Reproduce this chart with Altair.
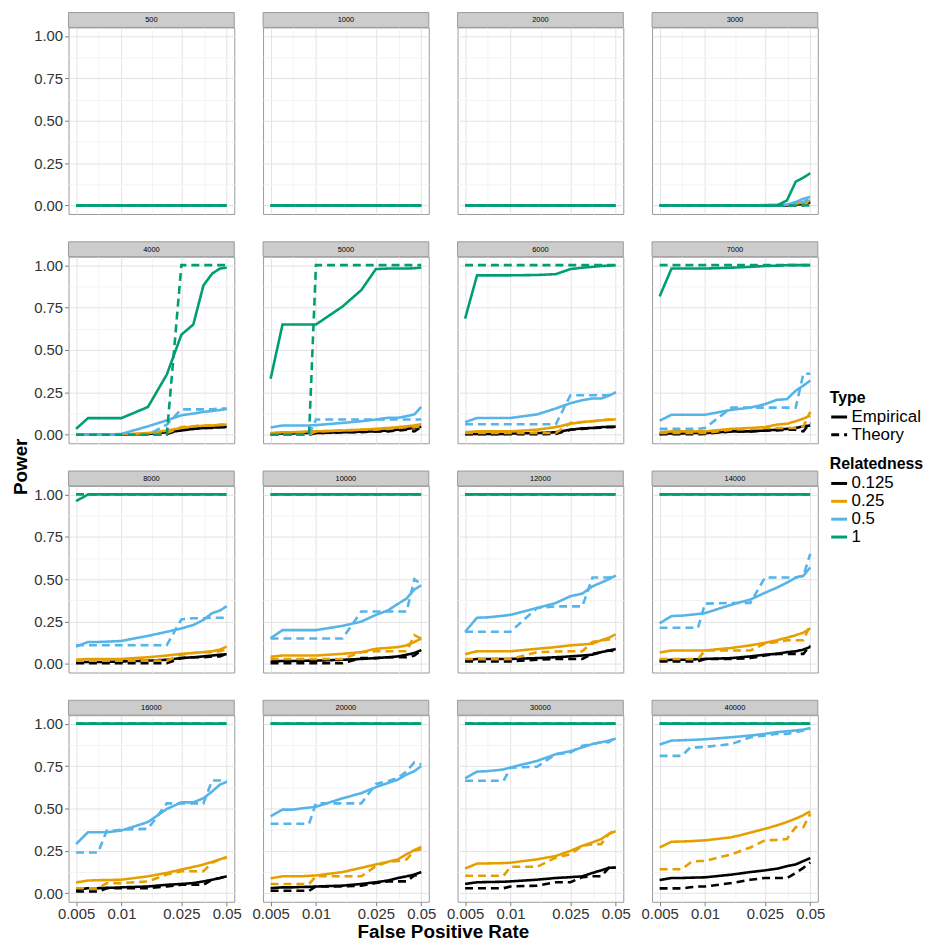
import math
import altair as alt
import pandas as pd

# ---------------- data ----------------
FPR = [0.005, 0.006, 0.007, 0.008, 0.009, 0.01, 0.015, 0.02, 0.025, 0.03, 0.035, 0.04, 0.045, 0.05]
SAMPLE_SIZES = ["500", "1000", "2000", "3000", "4000", "5000", "6000", "7000",
                "8000", "10000", "12000", "14000", "16000", "20000", "30000", "40000"]
RELATEDNESS = ["0.125", "0.25", "0.5", "1"]
REL_COLORS = ["#000000", "#E69F00", "#56B4E9", "#009E73"]
TYPES = ["Empirical", "Theory"]
X_MAJOR = [0.005, 0.01, 0.025, 0.05]
Y_MAJOR = [0.0, 0.25, 0.5, 0.75, 1.0]

ZERO = [0, 0, 0, 0, 0, 0, 0, 0, 0, 0, 0, 0, 0, 0]
ONE = [1, 1, 1, 1, 1, 1, 1, 1, 1, 1, 1, 1, 1, 1]

EMPIRICAL = {
    "500": {"0.125": ZERO, "0.25": ZERO, "0.5": ZERO, "1": ZERO},
    "1000": {"0.125": ZERO, "0.25": ZERO, "0.5": ZERO, "1": ZERO},
    "2000": {"0.125": ZERO, "0.25": ZERO, "0.5": ZERO, "1": ZERO},
    "3000": {
        "0.125": [0, 0, 0, 0, 0, 0, 0, 0, 0, 0, 0, 0.005, 0.01, 0.02],
        "0.25": [0, 0, 0, 0, 0, 0, 0, 0, 0.003, 0.005, 0.005, 0.01, 0.02, 0.03],
        "0.5": [0, 0, 0, 0, 0, 0, 0, 0, 0, 0, 0.005, 0.02, 0.04, 0.05],
        "1": [0, 0, 0, 0, 0, 0, 0, 0, 0, 0, 0.03, 0.14, 0.165, 0.19],
    },
    "4000": {
        "0.125": [0, 0, 0, 0, 0, 0, 0.005, 0.015, 0.025, 0.035, 0.04, 0.042, 0.045, 0.047],
        "0.25": [0, 0, 0, 0, 0, 0.002, 0.01, 0.025, 0.04, 0.05, 0.053, 0.055, 0.057, 0.06],
        "0.5": [0, 0, 0, 0, 0.003, 0.005, 0.05, 0.085, 0.115, 0.125, 0.135, 0.14, 0.146, 0.152],
        "1": [0.035, 0.098, 0.098, 0.098, 0.098, 0.098, 0.164, 0.355, 0.59, 0.65, 0.88, 0.95, 0.98, 0.985],
    },
    "5000": {
        "0.125": [0.005, 0.008, 0.008, 0.01, 0.01, 0.01, 0.015, 0.018, 0.02, 0.025, 0.03, 0.035, 0.04, 0.047],
        "0.25": [0.01, 0.015, 0.015, 0.017, 0.02, 0.02, 0.025, 0.03, 0.035, 0.04, 0.045, 0.05, 0.055, 0.062],
        "0.5": [0.043, 0.055, 0.055, 0.055, 0.055, 0.057, 0.07, 0.08, 0.09, 0.1, 0.1, 0.11, 0.12, 0.164],
        "1": [0.33, 0.65, 0.65, 0.65, 0.65, 0.65, 0.756, 0.853, 0.977, 0.98, 0.98, 0.98, 0.982, 0.985],
    },
    "6000": {
        "0.125": [0.005, 0.005, 0.005, 0.005, 0.005, 0.007, 0.01, 0.015, 0.03, 0.038, 0.04, 0.045, 0.047, 0.048],
        "0.25": [0.015, 0.02, 0.02, 0.02, 0.02, 0.02, 0.03, 0.045, 0.065, 0.075, 0.08, 0.085, 0.088, 0.091],
        "0.5": [0.074, 0.099, 0.099, 0.099, 0.099, 0.099, 0.12, 0.155, 0.186, 0.204, 0.214, 0.214, 0.23, 0.25],
        "1": [0.685, 0.94, 0.94, 0.94, 0.94, 0.94, 0.942, 0.947, 0.977, 0.985, 0.99, 0.995, 0.997, 1.0],
    },
    "7000": {
        "0.125": [0.005, 0.008, 0.008, 0.01, 0.01, 0.01, 0.02, 0.02, 0.025, 0.03, 0.035, 0.04, 0.05, 0.055],
        "0.25": [0.015, 0.02, 0.02, 0.02, 0.02, 0.02, 0.035, 0.04, 0.045, 0.06, 0.065, 0.08, 0.095, 0.113],
        "0.5": [0.083, 0.118, 0.118, 0.118, 0.118, 0.118, 0.147, 0.16, 0.18, 0.206, 0.21, 0.26, 0.29, 0.32],
        "1": [0.816, 0.98, 0.98, 0.98, 0.98, 0.98, 0.985, 0.99, 0.995, 0.997, 1.0, 1.0, 1.0, 1.0],
    },
    "8000": {
        "0.125": [0.01, 0.012, 0.012, 0.013, 0.014, 0.015, 0.02, 0.025, 0.035, 0.04, 0.045, 0.05, 0.055, 0.058],
        "0.25": [0.025, 0.03, 0.03, 0.03, 0.03, 0.03, 0.04, 0.05, 0.06, 0.065, 0.07, 0.075, 0.085, 0.103],
        "0.5": [0.103, 0.13, 0.13, 0.132, 0.134, 0.136, 0.166, 0.19, 0.21, 0.23, 0.26, 0.30, 0.315, 0.341],
        "1": [0.96, 1, 1, 1, 1, 1, 1, 1, 1, 1, 1, 1, 1, 1],
    },
    "10000": {
        "0.125": [0.015, 0.018, 0.018, 0.019, 0.02, 0.02, 0.025, 0.03, 0.035, 0.04, 0.045, 0.055, 0.065, 0.082],
        "0.25": [0.043, 0.05, 0.05, 0.05, 0.05, 0.05, 0.06, 0.07, 0.09, 0.095, 0.10, 0.11, 0.13, 0.15],
        "0.5": [0.152, 0.2, 0.2, 0.2, 0.2, 0.2, 0.225, 0.25, 0.29, 0.316, 0.355, 0.386, 0.44, 0.464],
        "1": ONE,
    },
    "12000": {
        "0.125": [0.02, 0.03, 0.03, 0.03, 0.03, 0.03, 0.035, 0.04, 0.045, 0.05, 0.055, 0.07, 0.08, 0.088],
        "0.25": [0.058, 0.075, 0.075, 0.075, 0.075, 0.075, 0.09, 0.10, 0.11, 0.115, 0.12, 0.14, 0.155, 0.175],
        "0.5": [0.19, 0.273, 0.275, 0.28, 0.285, 0.29, 0.33, 0.36, 0.40, 0.415, 0.458, 0.48, 0.50, 0.522],
        "1": ONE,
    },
    "14000": {
        "0.125": [0.02, 0.025, 0.025, 0.027, 0.028, 0.03, 0.035, 0.045, 0.055, 0.06, 0.07, 0.075, 0.085, 0.101],
        "0.25": [0.068, 0.08, 0.08, 0.08, 0.08, 0.08, 0.095, 0.11, 0.125, 0.14, 0.155, 0.17, 0.185, 0.21],
        "0.5": [0.24, 0.283, 0.285, 0.29, 0.295, 0.30, 0.35, 0.38, 0.42, 0.45, 0.48, 0.51, 0.52, 0.57],
        "1": ONE,
    },
    "16000": {
        "0.125": [0.02, 0.03, 0.03, 0.032, 0.033, 0.035, 0.04, 0.05, 0.055, 0.06, 0.07, 0.08, 0.09, 0.10],
        "0.25": [0.064, 0.075, 0.077, 0.078, 0.079, 0.08, 0.10, 0.12, 0.14, 0.155, 0.17, 0.185, 0.20, 0.214],
        "0.5": [0.29, 0.36, 0.36, 0.36, 0.365, 0.37, 0.42, 0.497, 0.536, 0.536, 0.56, 0.60, 0.64, 0.657],
        "1": ONE,
    },
    "20000": {
        "0.125": [0.03, 0.035, 0.035, 0.037, 0.038, 0.04, 0.045, 0.055, 0.065, 0.075, 0.09, 0.10, 0.11, 0.125],
        "0.25": [0.088, 0.10, 0.10, 0.10, 0.103, 0.105, 0.125, 0.15, 0.17, 0.185, 0.20, 0.23, 0.255, 0.273],
        "0.5": [0.454, 0.493, 0.493, 0.50, 0.505, 0.51, 0.56, 0.59, 0.626, 0.65, 0.67, 0.70, 0.72, 0.75],
        "1": ONE,
    },
    "30000": {
        "0.125": [0.055, 0.065, 0.066, 0.067, 0.068, 0.07, 0.08, 0.09, 0.095, 0.10, 0.12, 0.135, 0.15, 0.152],
        "0.25": [0.146, 0.175, 0.176, 0.177, 0.178, 0.18, 0.20, 0.22, 0.25, 0.28, 0.30, 0.32, 0.35, 0.366],
        "0.5": [0.678, 0.717, 0.72, 0.725, 0.73, 0.742, 0.78, 0.82, 0.838, 0.86, 0.88, 0.89, 0.90, 0.912],
        "1": ONE,
    },
    "40000": {
        "0.125": [0.078, 0.09, 0.09, 0.092, 0.093, 0.094, 0.11, 0.125, 0.135, 0.145, 0.16, 0.17, 0.19, 0.207],
        "0.25": [0.27, 0.304, 0.305, 0.307, 0.31, 0.312, 0.33, 0.357, 0.38, 0.40, 0.42, 0.44, 0.46, 0.483],
        "0.5": [0.877, 0.90, 0.902, 0.904, 0.906, 0.908, 0.92, 0.93, 0.94, 0.95, 0.955, 0.96, 0.965, 0.975],
        "1": ONE,
    },
}

THEORY = {
    "500": {"0.125": ZERO, "0.25": ZERO, "0.5": ZERO, "1": ZERO},
    "1000": {"0.125": ZERO, "0.25": ZERO, "0.5": ZERO, "1": ZERO},
    "2000": {"0.125": ZERO, "0.25": ZERO, "0.5": ZERO, "1": ZERO},
    "3000": {
        "0.125": [0, 0, 0, 0, 0, 0, 0, 0, 0, 0, 0, 0, 0, 0.02],
        "0.25": [0, 0, 0, 0, 0, 0, 0, 0, 0, 0, 0, 0, 0, 0.03],
        "0.5": [0, 0, 0, 0, 0, 0, 0, 0, 0, 0, 0, 0, 0.02, 0.04],
        "1": ZERO,
    },
    "4000": {
        "0.125": [0, 0, 0, 0, 0, 0, 0, 0.005, 0.03, 0.035, 0.04, 0.04, 0.045, 0.045],
        "0.25": [0, 0, 0, 0, 0, 0, 0, 0.01, 0.045, 0.05, 0.055, 0.055, 0.06, 0.06],
        "0.5": [0, 0, 0, 0, 0, 0, 0, 0.06, 0.15, 0.15, 0.15, 0.15, 0.155, 0.155],
        "1": [0, 0, 0, 0, 0, 0, 0, 0, 1, 1, 1, 1, 1, 1],
    },
    "5000": {
        "0.125": [0, 0, 0, 0, 0, 0.01, 0.015, 0.015, 0.02, 0.02, 0.025, 0.03, 0.02, 0.045],
        "0.25": [0, 0, 0, 0, 0, 0.02, 0.025, 0.03, 0.03, 0.035, 0.04, 0.045, 0.045, 0.05],
        "0.5": [0, 0, 0, 0, 0, 0.09, 0.09, 0.09, 0.09, 0.09, 0.09, 0.09, 0.09, 0.09],
        "1": [0, 0, 0, 0, 0, 1, 1, 1, 1, 1, 1, 1, 1, 1],
    },
    "6000": {
        "0.125": [0.003, 0.003, 0.003, 0.003, 0.003, 0.003, 0.003, 0.005, 0.03, 0.035, 0.04, 0.042, 0.045, 0.045],
        "0.25": [0.01, 0.01, 0.01, 0.01, 0.01, 0.01, 0.01, 0.01, 0.07, 0.075, 0.08, 0.085, 0.09, 0.09],
        "0.5": [0.062, 0.062, 0.062, 0.062, 0.062, 0.062, 0.062, 0.062, 0.233, 0.233, 0.233, 0.233, 0.235, 0.25],
        "1": ONE,
    },
    "7000": {
        "0.125": [0.003, 0.003, 0.003, 0.003, 0.003, 0.005, 0.02, 0.02, 0.025, 0.025, 0.03, 0.03, 0.02, 0.07],
        "0.25": [0.01, 0.01, 0.01, 0.01, 0.01, 0.01, 0.03, 0.035, 0.04, 0.04, 0.04, 0.04, 0.05, 0.135],
        "0.5": [0.035, 0.035, 0.035, 0.035, 0.035, 0.04, 0.16, 0.16, 0.16, 0.16, 0.16, 0.16, 0.36, 0.36],
        "1": ONE,
    },
    "8000": {
        "0.125": [0.005, 0.005, 0.005, 0.005, 0.005, 0.005, 0.005, 0.005, 0.035, 0.04, 0.04, 0.045, 0.045, 0.06],
        "0.25": [0.02, 0.02, 0.02, 0.02, 0.02, 0.02, 0.02, 0.02, 0.055, 0.065, 0.07, 0.07, 0.075, 0.09],
        "0.5": [0.111, 0.111, 0.111, 0.111, 0.111, 0.111, 0.111, 0.111, 0.263, 0.27, 0.27, 0.273, 0.273, 0.273],
        "1": ONE,
    },
    "10000": {
        "0.125": [0.005, 0.005, 0.005, 0.005, 0.005, 0.005, 0.005, 0.035, 0.035, 0.04, 0.04, 0.04, 0.05, 0.08],
        "0.25": [0.03, 0.03, 0.03, 0.03, 0.03, 0.03, 0.03, 0.07, 0.075, 0.075, 0.075, 0.075, 0.17, 0.15],
        "0.5": [0.15, 0.15, 0.15, 0.15, 0.15, 0.15, 0.15, 0.31, 0.31, 0.31, 0.31, 0.31, 0.50, 0.47],
        "1": ONE,
    },
    "12000": {
        "0.125": [0.015, 0.015, 0.015, 0.015, 0.015, 0.015, 0.025, 0.03, 0.03, 0.03, 0.06, 0.07, 0.08, 0.075],
        "0.25": [0.03, 0.03, 0.03, 0.03, 0.03, 0.03, 0.07, 0.074, 0.075, 0.075, 0.13, 0.14, 0.145, 0.152],
        "0.5": [0.19, 0.19, 0.19, 0.19, 0.19, 0.19, 0.33, 0.34, 0.34, 0.34, 0.51, 0.51, 0.51, 0.52],
        "1": ONE,
    },
    "14000": {
        "0.125": [0.015, 0.015, 0.015, 0.015, 0.015, 0.03, 0.03, 0.035, 0.05, 0.06, 0.06, 0.06, 0.06, 0.11],
        "0.25": [0.03, 0.03, 0.03, 0.03, 0.03, 0.08, 0.08, 0.08, 0.12, 0.13, 0.14, 0.14, 0.14, 0.23],
        "0.5": [0.214, 0.214, 0.214, 0.214, 0.214, 0.356, 0.36, 0.36, 0.51, 0.51, 0.51, 0.51, 0.52, 0.65],
        "1": ONE,
    },
    "16000": {
        "0.125": [0.01, 0.01, 0.01, 0.03, 0.03, 0.03, 0.03, 0.04, 0.05, 0.05, 0.05, 0.08, 0.09, 0.10],
        "0.25": [0.03, 0.03, 0.03, 0.06, 0.06, 0.06, 0.07, 0.11, 0.13, 0.13, 0.13, 0.18, 0.20, 0.21],
        "0.5": [0.24, 0.24, 0.24, 0.37, 0.37, 0.375, 0.38, 0.53, 0.53, 0.53, 0.53, 0.665, 0.665, 0.66],
        "1": ONE,
    },
    "20000": {
        "0.125": [0.015, 0.015, 0.015, 0.015, 0.015, 0.04, 0.04, 0.045, 0.06, 0.07, 0.07, 0.07, 0.105, 0.11],
        "0.25": [0.055, 0.055, 0.055, 0.055, 0.055, 0.10, 0.10, 0.10, 0.16, 0.185, 0.19, 0.20, 0.25, 0.26],
        "0.5": [0.41, 0.41, 0.41, 0.41, 0.41, 0.53, 0.53, 0.53, 0.645, 0.66, 0.68, 0.72, 0.772, 0.76],
        "1": ONE,
    },
    "30000": {
        "0.125": [0.03, 0.03, 0.03, 0.03, 0.03, 0.04, 0.045, 0.065, 0.065, 0.095, 0.10, 0.10, 0.15, 0.15],
        "0.25": [0.103, 0.103, 0.103, 0.103, 0.103, 0.156, 0.156, 0.21, 0.23, 0.28, 0.29, 0.29, 0.35, 0.376],
        "0.5": [0.663, 0.663, 0.663, 0.663, 0.663, 0.74, 0.746, 0.82, 0.83, 0.87, 0.88, 0.89, 0.89, 0.92],
        "1": ONE,
    },
    "40000": {
        "0.125": [0.029, 0.029, 0.029, 0.035, 0.04, 0.04, 0.06, 0.08, 0.09, 0.09, 0.09, 0.12, 0.15, 0.181],
        "0.25": [0.142, 0.142, 0.142, 0.18, 0.19, 0.19, 0.23, 0.27, 0.312, 0.315, 0.32, 0.39, 0.39, 0.47],
        "0.5": [0.81, 0.81, 0.81, 0.86, 0.86, 0.863, 0.88, 0.92, 0.93, 0.94, 0.94, 0.95, 0.96, 0.97],
        "1": ONE,
    },
}

rows = []
for n in SAMPLE_SIZES:
    for rel in RELATEDNESS:
        for typ, src in (("Empirical", EMPIRICAL), ("Theory", THEORY)):
            for x, y in zip(FPR, src[n][rel]):
                rows.append({"N": n, "Relatedness": rel, "Type": typ, "FPR": x, "Power": y})
df = pd.DataFrame(rows)

# ---------------- styling ----------------
FONT = "Liberation Sans"
W, H, STRIP = 167, 188, 15
GRID_MAJOR, GRID_MINOR = "#E3E3E3", "#F3F3F3"
BORDER = "#9A9A9A"

# ggplot-style minor gridlines midway (log space) between major breaks
X_MINOR = [math.sqrt(a * b) for a, b in zip(X_MAJOR[:-1], X_MAJOR[1:])]
Y_MINOR = [(a + b) / 2 for a, b in zip(Y_MAJOR[:-1], Y_MAJOR[1:])]
X_TICKS = sorted(X_MAJOR + X_MINOR)
Y_TICKS = sorted(Y_MAJOR + Y_MINOR)
x_test = "indexof([0.005, 0.01, 0.025, 0.05], datum.value) >= 0"
y_test = "indexof([0, 0.25, 0.5, 0.75, 1], datum.value) >= 0"

lo, hi = math.log10(X_MAJOR[0]), math.log10(X_MAJOR[-1])
pad = (hi - lo) * 0.05
X_DOMAIN = [10 ** (lo - pad), 10 ** (hi + pad)]
Y_DOMAIN = [-0.05, 1.05]

color_scale = alt.Scale(domain=RELATEDNESS, range=REL_COLORS)
dash_scale = alt.Scale(domain=TYPES, range=[[1, 0], [8, 5]])

legend_common = dict(
    orient="none", symbolType="stroke", symbolStrokeWidth=3, symbolSize=256,
    labelFont=FONT, labelFontSize=17, labelColor="#000000", labelOffset=3,
    titleFont=FONT, titleFontSize=16, titleFontWeight="bold", titleColor="#000000",
    rowPadding=0, titlePadding=2,
)
LEG_X = 767
color_legend = alt.Legend(title="Relatedness", legendX=LEG_X, legendY=432, **legend_common)
dash_legend = alt.Legend(title="Type", legendX=LEG_X, legendY=365,
                         symbolStrokeColor="#000000", **legend_common)


def make_axis(kind, show):
    test = x_test if kind == "x" else y_test
    common = dict(
        values=X_TICKS if kind == "x" else Y_TICKS,
        title=None, domain=False, grid=True,
        labels=show, ticks=show,
        gridColor={"condition": {"test": test, "value": GRID_MAJOR}, "value": GRID_MINOR},
        gridWidth=1,
        tickColor={"condition": {"test": test, "value": "#7F7F7F"}, "value": "transparent"},
        tickSize=4, tickWidth=1,
        labelFont=FONT, labelFontSize=15, labelColor="#333333",
        labelPadding=1 if kind == "x" else 2, labelFlush=False, labelOverlap=False,
    )
    if kind == "x":
        common["labelExpr"] = f"{x_test} ? format(datum.value, '~g') : ''"
    else:
        common["labelExpr"] = f"{y_test} ? format(datum.value, '.2f') : ''"
    return alt.Axis(**common)


def make_panel(i, n):
    row, col = divmod(i, 4)
    xaxis = make_axis("x", row == 3)
    yaxis = make_axis("y", col == 0)

    strip = alt.Chart(alt.Data(values=[{"N": n}])).mark_rect(
        fill="#CCCCCC", stroke=BORDER, strokeWidth=1
    ).encode(x=alt.value(0), x2=alt.value(W), y=alt.value(-STRIP), y2=alt.value(0))
    strip_text = alt.Chart(alt.Data(values=[{"N": n}])).mark_text(
        font=FONT, fontSize=7.5, color="#000000", align="center", baseline="middle"
    ).encode(x=alt.value(W / 2), y=alt.value(-STRIP / 2 + 0.5), text="N:N")

    layers = [strip, strip_text]
    for rel in RELATEDNESS:
        layers.append(
            alt.Chart(df)
            .transform_filter((alt.datum.N == n) & (alt.datum.Relatedness == rel))
            .mark_line(strokeWidth=2.6)
            .encode(
                x=alt.X("FPR:Q", scale=alt.Scale(type="log", domain=X_DOMAIN, nice=False), axis=xaxis),
                y=alt.Y("Power:Q", scale=alt.Scale(domain=Y_DOMAIN, nice=False, zero=False), axis=yaxis),
                color=alt.Color("Relatedness:N", scale=color_scale, legend=color_legend),
                strokeDash=alt.StrokeDash("Type:N", scale=dash_scale, legend=dash_legend),
                order=alt.Order("FPR:Q"),
            )
        )
    return alt.layer(*layers).properties(width=W, height=H)


panels = [make_panel(i, n) for i, n in enumerate(SAMPLE_SIZES)]

# column spacing is measured between label bounds of the bottom row (labels overhang the panels)
grid = alt.concat(*panels, columns=4, spacing={"row": 26, "column": 9}, align="each").properties(
    title=alt.TitleParams("Power", orient="left", anchor="middle", font=FONT, fontSize=19,
                          fontWeight="bold", color="#000000", offset=2)
)

chart = alt.vconcat(grid).properties(
    title=alt.TitleParams("False Positive Rate", orient="bottom", anchor="middle", font=FONT,
                          fontSize=19, fontWeight="bold", color="#000000", offset=1, dx=-25),
    padding={"left": 4, "top": 0, "right": 0, "bottom": 0},
).configure_view(stroke=BORDER, strokeWidth=1).configure_concat(spacing=0)

chart.save("out.html", embed_options={"renderer": "svg", "actions": False})
